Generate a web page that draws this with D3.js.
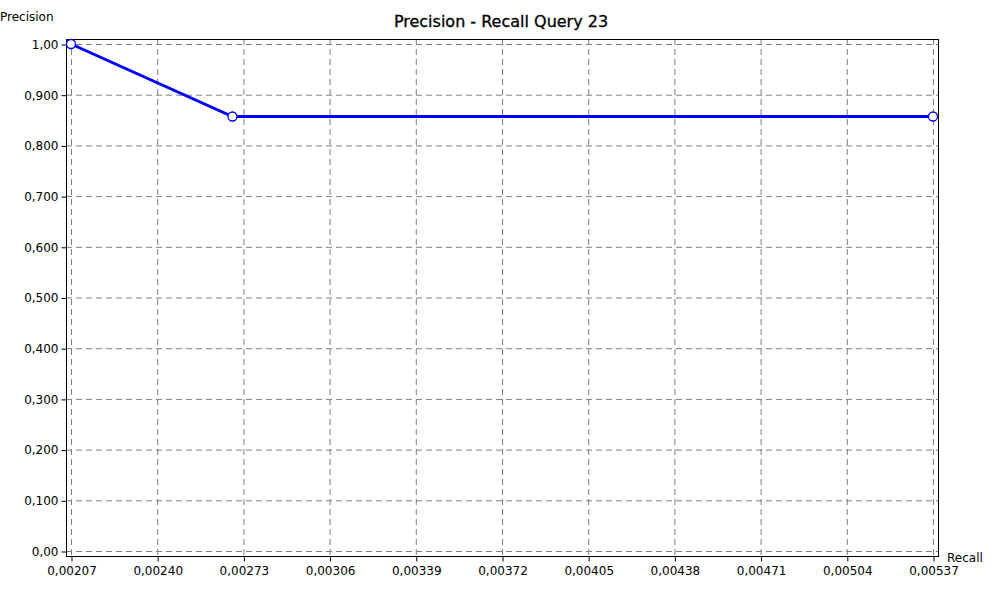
<!DOCTYPE html>
<html>
<head>
<meta charset="utf-8">
<script src="https://cdn.jsdelivr.net/npm/d3@7"></script>
<style>
  body { margin: 0; background: #fff; }
  text { font-family: "DejaVu Sans", sans-serif; }
</style>
</head>
<body>
<div id="chart"></div>
<script>
// data
var recall = [0.00207, 0.002688, 0.00537];
var precision = [1.0, 0.857, 0.857];
var xTicks = [0.00207, 0.00240, 0.00273, 0.00306, 0.00339, 0.00372, 0.00405, 0.00438, 0.00471, 0.00504, 0.00537];
var yTicks = [0, 0.1, 0.2, 0.3, 0.4, 0.5, 0.6, 0.7, 0.8, 0.9, 1.0];
var yLabels = ["0,00", "0,100", "0,200", "0,300", "0,400", "0,500", "0,600", "0,700", "0,800", "0,900", "1,00"];

var W = 1000, H = 600;
var pLeft = 66, pRight = 938, pTop = 39, pBottom = 556;

var svg = d3.select("#chart").append("svg")
    .attr("width", W).attr("height", H);

var x = d3.scaleLinear().domain([0.00207, 0.00537]).range([71, 933]);
var y = d3.scaleLinear().domain([0, 1]).range([551, 44]);

// gridlines
svg.append("g").selectAll("line").data(xTicks).enter().append("line")
    .attr("x1", d => x(d) + 0.5).attr("x2", d => x(d) + 0.5)
    .attr("y1", pTop).attr("y2", pBottom)
    .attr("stroke", "#808080").attr("stroke-dasharray", "6,4");
svg.append("g").selectAll("line").data(yTicks).enter().append("line")
    .attr("y1", d => y(d) + 0.5).attr("y2", d => y(d) + 0.5)
    .attr("x1", pLeft).attr("x2", pRight)
    .attr("stroke", "#808080").attr("stroke-dasharray", "6,4");

svg.append("rect")
    .attr("x", pLeft + 0.5).attr("y", pTop + 0.5)
    .attr("width", pRight - pLeft).attr("height", pBottom - pTop)
    .attr("fill", "none").attr("stroke", "#000");

// axes
var xAxis = svg.append("g")
    .attr("transform", "translate(0.5," + (pBottom + 0.5) + ")")
    .call(d3.axisBottom(x).tickValues(xTicks).tickSize(5).tickPadding(5)
        .tickFormat(d => d3.format(".5f")(d).replace(".", ",")));
xAxis.select(".domain").remove();
xAxis.selectAll("text").attr("font-size", "12px").attr("fill", "#000");

var yAxis = svg.append("g")
    .attr("transform", "translate(" + (pLeft + 0.5) + ",0.5)")
    .call(d3.axisLeft(y).tickValues(yTicks).tickSize(5).tickPadding(3)
        .tickFormat((d, i) => yLabels[i]));
yAxis.select(".domain").remove();
yAxis.selectAll("text").attr("font-size", "12px").attr("fill", "#000");

// line and points
var line = d3.line().x((d, i) => x(recall[i])).y(d => y(d));
svg.append("path").datum(precision)
    .attr("d", line).attr("fill", "none")
    .attr("stroke", "#0000ff").attr("stroke-width", 3);
svg.append("g").selectAll("circle").data(precision).enter().append("circle")
    .attr("cx", (d, i) => x(recall[i])).attr("cy", d => y(d))
    .attr("r", 4.5).attr("fill", "#fff")
    .attr("stroke", "#0000ff").attr("stroke-width", 1.3);

// titles
svg.append("text").attr("x", 501).attr("y", 27)
    .attr("text-anchor", "middle").attr("font-size", "16px")
    .attr("stroke", "#000").attr("stroke-width", 0.3)
    .text("Precision - Recall Query 23");
svg.append("text").attr("x", 0).attr("y", 21)
    .attr("font-size", "12px").text("Precision");
svg.append("text").attr("x", 947).attr("y", 562)
    .attr("font-size", "12px").text("Recall");
</script>
</body>
</html>
